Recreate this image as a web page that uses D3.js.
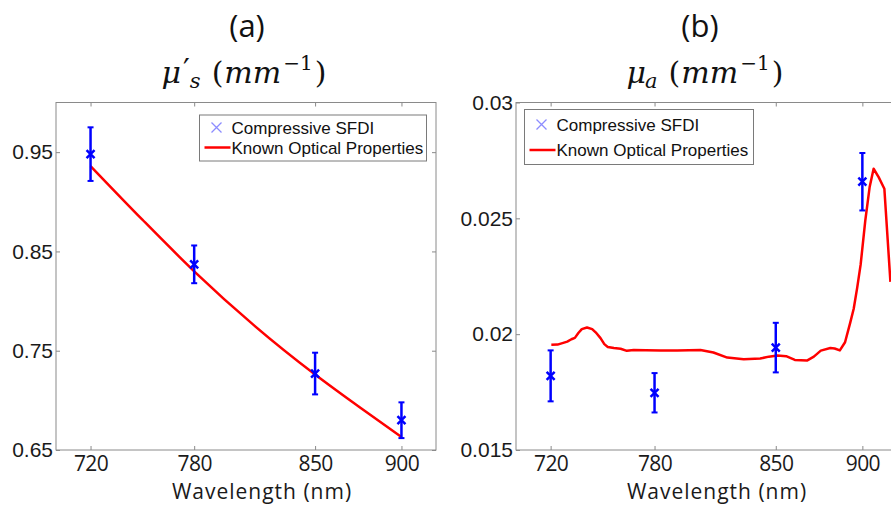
<!DOCTYPE html>
<html lang="en">
<head>
<meta charset="utf-8">
<title>Compressive SFDI</title>
<script src="https://d3js.org/d3.v7.min.js"></script>
<style>
  body { margin: 0; background: #fff; }
  .tickX text { font-family: "Open Sans", sans-serif; font-size: 21px; fill: #1a1a1a; letter-spacing: -0.6px; }
  .tickY text { font-family: "Liberation Sans", Arial, sans-serif; font-size: 21px; fill: #1a1a1a; }
  .tick line { stroke: #8a8a8a; }
  .legend text { font-family: "Liberation Sans", Arial, sans-serif; font-size: 17px; fill: #111; }
  .panelTitle { font-family: "Open Sans", sans-serif; font-size: 31px; fill: #111; }
  .math { font-family: "DejaVu Serif", serif; font-size: 30px; fill: #111; }
  .axisLabel { font-family: "Open Sans", sans-serif; font-size: 21px; letter-spacing: 1px; fill: #1a1a1a; }
</style>
</head>
<body>
<script>
// measured wavelengths (nm)
var wavelengths = [720, 780, 850, 900];
var xTicks = [720, 780, 850, 900];

// (a) reduced scattering
var musMeasured = [0.948, 0.837, 0.727, 0.680];
var musError = [0.027, 0.019, 0.021, 0.018];
var musKnownWl = [720, 750, 780, 815, 850, 875, 900];
var musKnown = [0.936, 0.882, 0.830, 0.775, 0.726, 0.694, 0.663];
var musTicks = [0.65, 0.75, 0.85, 0.95];

// (b) absorption
var muaMeasured = [0.0182, 0.01747, 0.01942, 0.02658];
var muaError = [0.0011, 0.00085, 0.00107, 0.00124];
var muaKnownWl = [720.4, 724, 729.6, 732, 734, 736, 738, 741, 744, 746, 748.8, 751, 753, 756.5, 760.4, 764, 768, 775, 783.5, 793, 800, 806.5, 814, 822, 831.5, 841, 846, 851, 856, 861, 868, 872, 876, 881.5, 884, 887, 890, 893, 895, 897, 899, 901.7, 904.2, 906.5, 909.4, 912.7, 916.2];
var muaKnown = [0.01954, 0.01955, 0.01968, 0.01978, 0.01984, 0.02005, 0.02022, 0.02029, 0.02022, 0.02008, 0.01983, 0.01957, 0.01945, 0.01940, 0.01937, 0.01928, 0.01932, 0.01931, 0.01929, 0.01929, 0.01931, 0.01932, 0.01921, 0.01899, 0.01892, 0.01895, 0.01903, 0.01908, 0.01905, 0.01889, 0.01886, 0.01903, 0.01929, 0.01940, 0.01938, 0.01930, 0.01965, 0.02050, 0.02110, 0.02200, 0.02300, 0.02491, 0.02635, 0.02714, 0.02678, 0.02628, 0.02226];
var muaTicks = [0.015, 0.02, 0.025, 0.03];

var blue = "#0000ff", red = "#ff0000", boxGray = "#8a8a8a";

var svg = d3.select("body").append("svg")
  .attr("width", 891)
  .attr("height", 506);

// one text element made of tspans, centred afterwards on cx
function mathTitle(parts, cx, baseline) {
  var t = svg.append("text").attr("class", "math").attr("x", 0).attr("y", baseline);
  parts.forEach(function(p) {
    t.append("tspan")
      .attr("dx", p.dx || 0)
      .attr("dy", p.dy || 0)
      .attr("font-size", p.size ? p.size + "px" : null)
      .attr("font-style", p.italic ? "italic" : "normal")
      .text(p.t);
  });
  var b = t.node().getBBox();
  t.attr("x", cx - b.width / 2);
}

function drawPanel(p) {
  var x = d3.scaleLinear().domain([700, 920]).range([p.left, p.right]);
  var y = d3.scaleLinear().domain(p.yDomain).range([p.bottom, p.top]);
  var g = svg.append("g");

  // box
  g.append("rect")
    .attr("x", p.left).attr("y", p.top)
    .attr("width", p.right - p.left).attr("height", p.bottom - p.top)
    .attr("fill", "none").attr("stroke", boxGray).attr("stroke-width", 1);

  // axes, ticks point inwards on all four sides
  g.append("g").attr("class", "tickX")
    .attr("transform", "translate(0," + p.bottom + ")")
    .call(d3.axisBottom(x).tickValues(xTicks).tickSizeInner(-4).tickSizeOuter(0).tickPadding(6))
    .call(function(a) { a.select(".domain").remove(); });
  g.append("g").attr("class", "tickX")
    .attr("transform", "translate(0," + p.top + ")")
    .call(d3.axisTop(x).tickValues(xTicks).tickSizeInner(-4).tickSizeOuter(0).tickFormat(""))
    .call(function(a) { a.select(".domain").remove(); });
  g.append("g").attr("class", "tickY")
    .attr("transform", "translate(" + p.left + ",0)")
    .call(d3.axisLeft(y).tickValues(p.yTicks).tickSizeInner(-4).tickSizeOuter(0).tickPadding(3).tickFormat(d3.format("~g")))
    .call(function(a) { a.select(".domain").remove(); });
  g.append("g").attr("class", "tickY")
    .attr("transform", "translate(" + p.right + ",0)")
    .call(d3.axisRight(y).tickValues(p.yTicks).tickSizeInner(-4).tickSizeOuter(0).tickFormat(""))
    .call(function(a) { a.select(".domain").remove(); });

  // known curve
  var line = d3.line().curve(p.curve)
    .x(function(d) { return x(d[0]); }).y(function(d) { return y(d[1]); });
  g.append("path")
    .datum(d3.zip(p.knownWl, p.known))
    .attr("d", line)
    .attr("fill", "none").attr("stroke", red).attr("stroke-width", 2.5)
    .attr("stroke-linejoin", "round");

  // measured points with error bars
  var pts = g.selectAll(".pt").data(d3.zip(wavelengths, p.measured, p.error)).enter().append("g");
  pts.append("line")
    .attr("x1", function(d) { return x(d[0]); }).attr("x2", function(d) { return x(d[0]); })
    .attr("y1", function(d) { return y(d[1] - d[2]); }).attr("y2", function(d) { return y(d[1] + d[2]); })
    .attr("stroke", blue).attr("stroke-width", 2.5);
  [-1, 1].forEach(function(s) {
    pts.append("line")
      .attr("x1", function(d) { return x(d[0]) - 3; }).attr("x2", function(d) { return x(d[0]) + 3; })
      .attr("y1", function(d) { return y(d[1] + s * d[2]); }).attr("y2", function(d) { return y(d[1] + s * d[2]); })
      .attr("stroke", blue).attr("stroke-width", 2);
  });
  pts.append("path")
    .attr("d", function(d) {
      var cx = x(d[0]), cy = y(d[1]), r = 4;
      return "M" + (cx - r) + "," + (cy - r) + "L" + (cx + r) + "," + (cy + r) +
             "M" + (cx - r) + "," + (cy + r) + "L" + (cx + r) + "," + (cy - r);
    })
    .attr("stroke", blue).attr("stroke-width", 2.5).attr("fill", "none");

  // legend
  var lg = g.append("g").attr("class", "legend");
  var L = p.legend;
  lg.append("rect")
    .attr("x", L.x).attr("y", L.y).attr("width", L.w).attr("height", L.h)
    .attr("fill", "#fff").attr("stroke", "#7a7a7a").attr("stroke-width", 1);
  var mx = L.x + 17, my = L.row1;
  lg.append("path")
    .attr("d", "M" + (mx - 5) + "," + (my - 5) + "L" + (mx + 5) + "," + (my + 5) +
               "M" + (mx - 5) + "," + (my + 5) + "L" + (mx + 5) + "," + (my - 5))
    .attr("stroke", "#8c8cff").attr("stroke-width", 1.3);
  lg.append("line")
    .attr("x1", L.x + 5).attr("x2", L.x + 31).attr("y1", L.row2).attr("y2", L.row2)
    .attr("stroke", red).attr("stroke-width", 2.5);
  lg.append("text").attr("x", L.x + 32).attr("y", L.row1 + 6).text("Compressive SFDI");
  lg.append("text").attr("x", L.x + 32).attr("y", L.row2 + 6).text("Known Optical Properties");

  // titles
  svg.append("text").attr("class", "panelTitle")
    .attr("x", p.titleX).attr("y", 37).attr("text-anchor", "middle").text(p.label);
  mathTitle(p.math, p.mathX, 83);

  svg.append("text").attr("class", "axisLabel")
    .attr("x", p.xLabelX).attr("y", 499).attr("text-anchor", "middle")
    .text("Wavelength (nm)");
}

// "(mm^-1)" part, shared by both titles; dy values are relative to the previous tspan
function unitParts(back) {
  return [
    { t: "(", dx: 11, dy: back },
    { t: "mm", italic: true, dx: 1 },
    { t: "\u22121", size: 20, dx: 2, dy: -13 },
    { t: ")", dx: 2, dy: 13 }
  ];
}

drawPanel({
  left: 56, right: 436, top: 102.5, bottom: 450,
  yDomain: [0.65, 1.0], yTicks: musTicks, curve: d3.curveMonotoneX,
  measured: musMeasured, error: musError, knownWl: musKnownWl, known: musKnown,
  legend: { x: 199.5, y: 115, w: 227, h: 46, row1: 127.5, row2: 147.5 },
  label: "(a)", titleX: 247, mathX: 244,  xLabelX: 262,
  math: [
    { t: "\u03bc", italic: true },
    { t: "\u2032", size: 30, dx: 2, dy: -3 },
    { t: "s", italic: true, size: 21, dx: 0, dy: 8 }
  ].concat(unitParts(-5))
});

drawPanel({
  left: 516, right: 897, top: 102.5, bottom: 450,
  yDomain: [0.015, 0.03], yTicks: muaTicks, curve: d3.curveLinear,
  measured: muaMeasured, error: muaError, knownWl: muaKnownWl, known: muaKnown,
  legend: { x: 524.5, y: 109.5, w: 229, h: 55, row1: 124.5, row2: 150 },
  label: "(b)", titleX: 700, mathX: 705, xLabelX: 717,
  math: [
    { t: "\u03bc", italic: true },
    { t: "a", italic: true, size: 21, dx: -1, dy: 5 }
  ].concat(unitParts(-5))
});
</script>
</body>
</html>
